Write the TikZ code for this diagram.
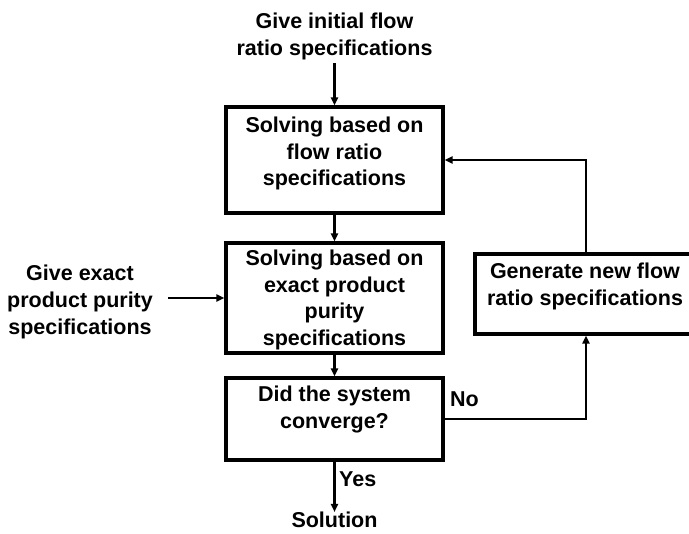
\documentclass[tikz,border=0pt]{standalone}
\usepackage{fontspec}
\setmainfont{Liberation Sans}
\usetikzlibrary{arrows.meta}
\begin{document}
\begin{tikzpicture}[x=1pt,y=-1pt,
  txt/.style={font=\fontsize{21.5}{26.8}\selectfont\bfseries, align=center, inner sep=0pt},
  box/.style={draw, line width=3.2pt, rectangle, inner sep=0pt},
  flow/.style={line width=2.4pt, -{Triangle[length=8pt,width=7pt]}}]
\useasboundingbox (0,0) rectangle (689,534);

% process boxes
\node[box, minimum width=217pt, minimum height=106pt] (b1) at (334.5,160) {};
\node[box, minimum width=217pt, minimum height=110pt] (b2) at (334.5,298) {};
\node[box, minimum width=217pt, minimum height=82pt]  (b3) at (334.5,419) {};
\node[box, minimum width=222pt, minimum height=80pt]  (b4) at (586,294) {};

% box texts
\node[txt, anchor=north] (t1) at (334.5,116.5) {Solving based on\\flow ratio\\specifications};
\node[txt, anchor=north] (t2) at (334.5,249.5) {Solving based on\\exact product\\purity\\specifications};
\node[txt, anchor=north] (t3) at (334.5,386) {Did the system\\converge?};
\node[txt, anchor=north] (t4) at (585,263) {Generate new flow\\ratio specifications};

% free texts
\node[txt, anchor=north] (start) at (334.5,13) {Give initial flow\\ratio specifications};
\node[txt, anchor=north] (purity) at (80,265) {Give exact\\product purity\\specifications};
\node[txt, anchor=north] (sol) at (334.5,512) {Solution};
\node[txt, anchor=north west] (yes) at (339,472) {Yes};
\node[txt, anchor=north west] (no) at (450,392) {No};

% connectors
\draw[flow, shorten <=3pt] (start.south) -- (b1.north);
\draw[flow] (b1.south) -- (b2.north);
\draw[flow] (b2.south) -- (b3.north);
\draw[flow] (b3.south) -- (sol.north);
\draw[flow, shorten <=15pt] (purity.east |- b2.west) -- (b2.west);
\draw[flow] (b3.east) -| (b4.south);
\draw[flow] (b4.north) |- (b1.east);
\end{tikzpicture}
\end{document}
